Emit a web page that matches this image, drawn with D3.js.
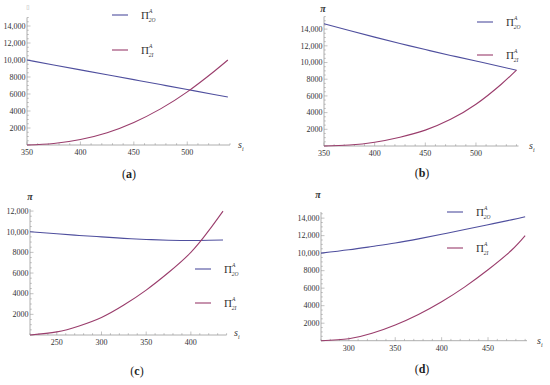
<!DOCTYPE html>
<html>
<head>
<meta charset="utf-8">
<script src="https://cdn.jsdelivr.net/npm/d3@7"></script>
<style>
  body { margin: 0; background: #fff; }
  svg { display: block; }
</style>
</head>
<body>
<svg id="chart" width="550" height="385"></svg>
<script>
// panel (a)
const sA = [350, 375, 400, 425, 450, 475, 500, 525, 538];
const oA = [10000, 9420, 8840, 8265, 7690, 7110, 6530, 5950, 5650];
const iA = [0, 180, 650, 1450, 2650, 4250, 6250, 8650, 10000];
// panel (b)
const sB = [350, 375, 400, 425, 450, 475, 500, 525, 540];
const oB = [14650, 13830, 13040, 12280, 11550, 10850, 10180, 9500, 9080];
const iB = [0, 120, 450, 1050, 1900, 3200, 5000, 7400, 9080];
// panel (c)
const sC = [220, 250, 275, 300, 325, 350, 375, 400, 420, 436];
const oC = [10000, 9800, 9640, 9500, 9360, 9250, 9180, 9150, 9170, 9200];
const iC = [0, 300, 880, 1700, 2900, 4350, 6050, 8000, 10100, 12000];
// panel (d)
const sD = [270, 300, 325, 350, 375, 400, 425, 450, 475, 490];
const oD = [10000, 10380, 10760, 11160, 11630, 12150, 12700, 13250, 13800, 14150];
const iD = [0, 230, 850, 1800, 3000, 4450, 6150, 8100, 10300, 12000];

const xTicksAB = [350, 400, 450, 500];
const xTicksC = [250, 300, 350, 400];
const xTicksD = [300, 350, 400, 450];
const yTicks14 = [2000, 4000, 6000, 8000, 10000, 12000, 14000];
const yTicks12 = [2000, 4000, 6000, 8000, 10000, 12000];
const panelLetters = ["a", "b", "c", "d"];

const blue = "#4f4f9e";
const red = "#9a3d6c";
const axisCol = "#9a9a9a";
const serif = "'Liberation Serif', 'DejaVu Serif', serif";

const svg = d3.select("#chart");

const panels = [
  { s: sA, o: oA, i: iA, xd: [350, 540], xr: [27, 230], yd: [0, 15000], yr: [145, 17.5],
    xt: xTicksAB, yt: yTicks14, pi: [28, 9], piBox: true, leg: [112, 15, 50], lab: [129, 178], sl: [238, 148] },
  { s: sB, o: oB, i: iB, xd: [350, 542], xr: [324, 518.5], yd: [0, 15500], yr: [146, 16.6],
    xt: xTicksAB, yt: yTicks14, pi: [323, 12], leg: [477, 22, 55], lab: [422, 177], sl: [529, 149] },
  { s: sC, o: oC, i: iC, xd: [220, 440], xr: [30, 226.6], yd: [0, 12200], yr: [335, 209],
    xt: xTicksC, yt: yTicks12, pi: [30, 200], leg: [195, 269, 303], lab: [137, 375], sl: [234, 336] },
  { s: sD, o: oD, i: iD, xd: [270, 492], xr: [321, 527], yd: [0, 14700], yr: [340.7, 212],
    xt: xTicksD, yt: yTicks14, pi: [318, 198], leg: [447, 212, 248], lab: [422, 373], sl: [537, 344] }
];

const fmt = v => v >= 10000 ? d3.format(",")(v) : String(v);

panels.forEach((p, k) => {
  const x = d3.scaleLinear().domain(p.xd).range(p.xr);
  const y = d3.scaleLinear().domain(p.yd).range(p.yr);
  const g = svg.append("g");

  // axes lines
  g.append("line").attr("x1", p.xr[0]).attr("x2", p.xr[1])
    .attr("y1", p.yr[0]).attr("y2", p.yr[0])
    .attr("stroke", axisCol).attr("stroke-width", 0.8);
  g.append("line").attr("x1", p.xr[0]).attr("x2", p.xr[0])
    .attr("y1", p.yr[0]).attr("y2", p.yr[1])
    .attr("stroke", axisCol).attr("stroke-width", 0.8);

  // ticks, major and minor, pointing inward
  const xMinor = d3.range(Math.ceil(p.xd[0] / 10) * 10, p.xd[1] + 1, 10);
  g.selectAll(".xm").data(xMinor).enter().append("line")
    .attr("x1", d => x(d)).attr("x2", d => x(d))
    .attr("y1", p.yr[0]).attr("y2", d => p.yr[0] - (d % 50 === 0 ? 3.5 : 1.8))
    .attr("stroke", axisCol).attr("stroke-width", 0.6);
  const yMinor = d3.range(0, p.yd[1] + 1, 500);
  g.selectAll(".ym").data(yMinor).enter().append("line")
    .attr("y1", d => y(d)).attr("y2", d => y(d))
    .attr("x1", p.xr[0]).attr("x2", d => p.xr[0] + (d % 2000 === 0 ? 3.5 : 1.8))
    .attr("stroke", axisCol).attr("stroke-width", 0.6);

  // tick labels
  g.selectAll(".xl").data(p.xt).enter().append("text")
    .attr("x", d => x(d)).attr("y", p.yr[0] + 10)
    .attr("text-anchor", "middle")
    .attr("font-family", serif).attr("font-size", 8).attr("fill", "#333")
    .text(d => d);
  g.selectAll(".yl").data(p.yt).enter().append("text")
    .attr("x", p.xr[0] - 1.5).attr("y", d => y(d) + 2.8)
    .attr("text-anchor", "end")
    .attr("font-family", serif).attr("font-size", 8).attr("fill", "#333")
    .text(fmt);

  // curves
  const line = d3.line().curve(d3.curveNatural);
  [[p.o, blue], [p.i, red]].forEach(([vals, col]) => {
    g.append("path")
      .attr("d", line(p.s.map((s, j) => [x(s), y(vals[j])])))
      .attr("fill", "none").attr("stroke", col).attr("stroke-width", 1.1);
  });

  // axis labels
  g.append("text").attr("x", p.pi[0]).attr("y", p.pi[1])
    .attr("text-anchor", "middle").attr("font-family", serif)
    .attr("font-style", "italic").attr("font-weight", "bold")
    .attr("font-size", p.piBox ? 6 : 10).attr("fill", p.piBox ? "#aaa" : "#333")
    .text(p.piBox ? "\u25AF" : "\u03C0");
  const sl = g.append("text").attr("x", p.sl[0]).attr("y", p.sl[1])
    .attr("font-family", serif).attr("font-style", "italic")
    .attr("font-size", 10).attr("fill", "#333");
  sl.append("tspan").text("s");
  sl.append("tspan").attr("font-size", 6).attr("dy", 3).text("i");

  // legend
  [[p.leg[1], blue, "2O"], [p.leg[2], red, "2I"]].forEach(([ly, col, sub]) => {
    g.append("line").attr("x1", p.leg[0]).attr("x2", p.leg[0] + 16)
      .attr("y1", ly).attr("y2", ly)
      .attr("stroke", col).attr("stroke-width", 1.1);
    const t = g.append("text").attr("x", p.leg[0] + 29).attr("y", ly + 4)
      .attr("font-family", serif).attr("font-size", 11).attr("fill", "#333");
    t.append("tspan").text("\u03A0");
    t.append("tspan").attr("font-size", 5.5).attr("font-style", "italic")
      .attr("dy", -6).text("A");
    t.append("tspan").attr("font-size", 5.5).attr("font-style", "italic")
      .attr("dx", -3.7).attr("dy", 9).text(sub);
  });

  // panel letter
  const lt = g.append("text").attr("x", p.lab[0]).attr("y", p.lab[1])
    .attr("text-anchor", "middle").attr("font-family", serif)
    .attr("font-size", 12).attr("fill", "#222");
  lt.append("tspan").text("(");
  lt.append("tspan").attr("font-weight", "bold").text(panelLetters[k]);
  lt.append("tspan").text(")");
});
</script>
</body>
</html>
